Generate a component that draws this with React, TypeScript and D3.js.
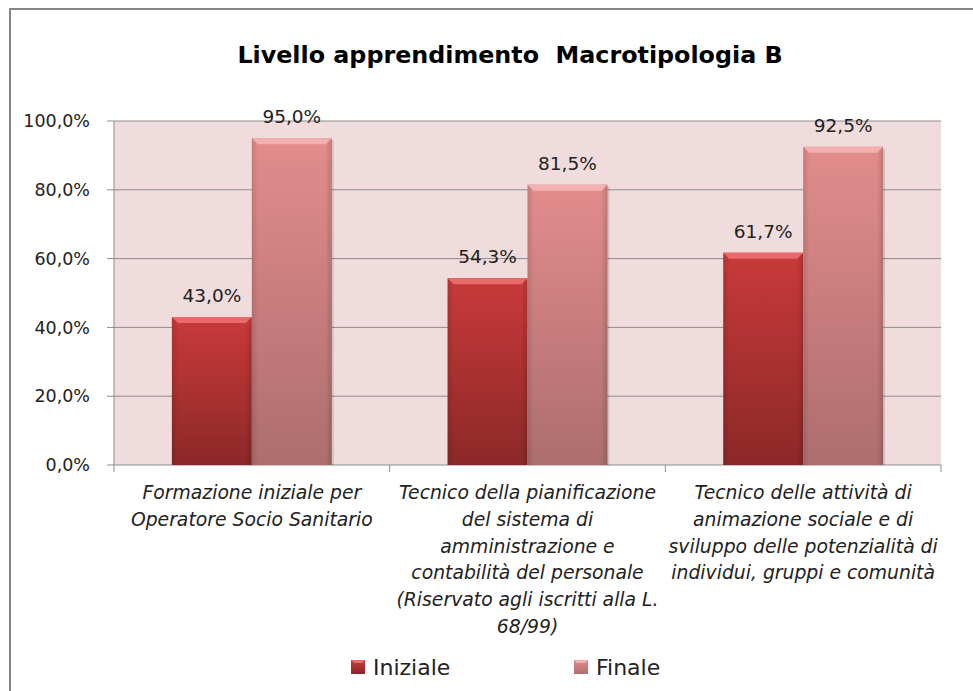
import React from 'react';
import * as d3 from 'd3';

const W = 973;
const H = 691;
const margin = { top: 121, right: 32, bottom: 226, left: 114 };
const plotW = W - margin.left - margin.right;
const plotH = H - margin.top - margin.bottom;

const categories = ['Formazione OSS', 'Tecnico pianificazione', 'Tecnico animazione'];
const categoryLines = [
  ['Formazione iniziale per', 'Operatore Socio Sanitario'],
  [
    'Tecnico della pianificazione',
    'del sistema di',
    'amministrazione e',
    'contabilità del personale',
    '(Riservato agli iscritti alla L.',
    '68/99)',
  ],
  [
    'Tecnico delle attività di',
    'animazione sociale e di',
    'sviluppo delle potenzialità di',
    'individui, gruppi e comunità',
  ],
];
const seriesNames = ['Iniziale', 'Finale'];
const iniziale = [43.0, 54.3, 61.7];
const finale = [95.0, 81.5, 92.5];
const yTicks = [0, 20, 40, 60, 80, 100];

const font = '"DejaVu Sans", sans-serif';
const fmt = (v: number) => v.toFixed(1).replace('.', ',') + '%';

const App = () => {
  const x0 = d3.scaleBand<string>().domain(categories).range([0, plotW]);
  const bw = x0.bandwidth();
  const x1 = d3.scaleBand<string>().domain(seriesNames).range([bw * 0.21, bw * 0.79]);
  const y = d3.scaleLinear().domain([0, 100]).range([plotH, 0]);

  const series = [iniziale, finale];
  const fills = ['url(#gIni)', 'url(#gFin)'];
  const bevel = ['#e86a6a', '#f2b0b0'];

  return (
    <svg width={W} height={H} style={{ position: 'absolute', left: 0, top: 0 }}>
      <defs>
        <linearGradient id="gIni" x1="0" y1="0" x2="0" y2="1">
          <stop offset="0%" stopColor="#c93a3a" />
          <stop offset="100%" stopColor="#8c2828" />
        </linearGradient>
        <linearGradient id="gFin" x1="0" y1="0" x2="0" y2="1">
          <stop offset="0%" stopColor="#e38c8c" />
          <stop offset="100%" stopColor="#ad6e6e" />
        </linearGradient>
        <linearGradient id="edge" x1="0" y1="0" x2="1" y2="0">
          <stop offset="0%" stopColor="#000" stopOpacity={0.12} />
          <stop offset="8%" stopColor="#000" stopOpacity={0} />
          <stop offset="92%" stopColor="#000" stopOpacity={0} />
          <stop offset="100%" stopColor="#000" stopOpacity={0.15} />
        </linearGradient>
      </defs>
      <rect x={0} y={0} width={W} height={H} fill="#fff" />
      <rect x={10} y={9} width={W + 20} height={H + 20} fill="none" stroke="#868686" strokeWidth={2} />

      <text
        x={510}
        y={63}
        textAnchor="middle"
        fontFamily={font}
        fontWeight="bold"
        fontSize={23.8}
        fill="#000"
        style={{ whiteSpace: 'pre' }}
      >
        {'Livello apprendimento  Macrotipologia B'}
      </text>

      <g transform={`translate(${margin.left},${margin.top})`}>
        <rect x={0} y={0} width={plotW} height={plotH} fill="#f0dcdc" />
        {yTicks.map(t => (
          <g key={t} transform={`translate(0,${y(t)})`}>
            {t > 0 && <line x1={0} x2={plotW} stroke="#8c8c8c" strokeWidth={1} />}
            <line x1={-7} x2={0} stroke="#8c8c8c" strokeWidth={1} />
            <text
              x={-24}
              dy="0.35em"
              textAnchor="end"
              fontFamily={font}
              fontSize={17.5}
              fill="#222"
            >
              {fmt(t)}
            </text>
          </g>
        ))}
        <line x1={0} x2={0} y1={0} y2={plotH} stroke="#8c8c8c" />
        <line x1={0} x2={plotW} y1={plotH} y2={plotH} stroke="#8c8c8c" />
        {[0, 1, 2, 3].map(i => {
          const xx = i * bw;
          return <line key={i} x1={xx} x2={xx} y1={plotH} y2={plotH + 7} stroke="#8c8c8c" />;
        })}

        {categories.map((c, ci) => (
          <g key={c} transform={`translate(${x0(c)},0)`}>
            {series.map((vals, si) => {
              const bx = x1(seriesNames[si]) as number;
              const w = x1.bandwidth();
              const top = y(vals[ci]);
              const h = plotH - top;
              return (
                <g key={si}>
                  <rect x={bx + 2} y={top + 2} width={w} height={h - 2} fill="#000" opacity={0.12} />
                  <rect x={bx} y={top} width={w} height={h} fill={fills[si]} />
                  <rect x={bx} y={top} width={w} height={h} fill="url(#edge)" />
                  <polygon
                    points={`${bx},${top} ${bx + w},${top} ${bx + w - 6},${top + 6} ${bx + 6},${top + 6}`}
                    fill={bevel[si]}
                  />
                  <text
                    x={bx + w / 2}
                    y={top - 15}
                    textAnchor="middle"
                    fontFamily={font}
                    fontSize={18.5}
                    fill="#222"
                  >
                    {fmt(vals[ci])}
                  </text>
                </g>
              );
            })}
            {categoryLines[ci].map((ln, li) => (
              <text
                key={li}
                x={bw / 2}
                y={plotH + 34 + li * 26.8}
                textAnchor="middle"
                fontFamily={font}
                fontStyle="italic"
                fontSize={18.8}
                fill="#222"
              >
                {ln}
              </text>
            ))}
          </g>
        ))}
      </g>

      <g transform="translate(0,667)">
        {seriesNames.map((s, i) => {
          const lx = i === 0 ? 351 : 574;
          return (
            <g key={s} transform={`translate(${lx},0)`}>
              <rect x={0} y={-7} width={14} height={14} fill={fills[i]} />
              <polygon points="0,-7 14,-7 11,-4 3,-4" fill={bevel[i]} />
              <text x={22} dy="0.35em" fontFamily={font} fontSize={22} fill="#222">
                {s}
              </text>
            </g>
          );
        })}
      </g>
    </svg>
  );
};

export default App;
